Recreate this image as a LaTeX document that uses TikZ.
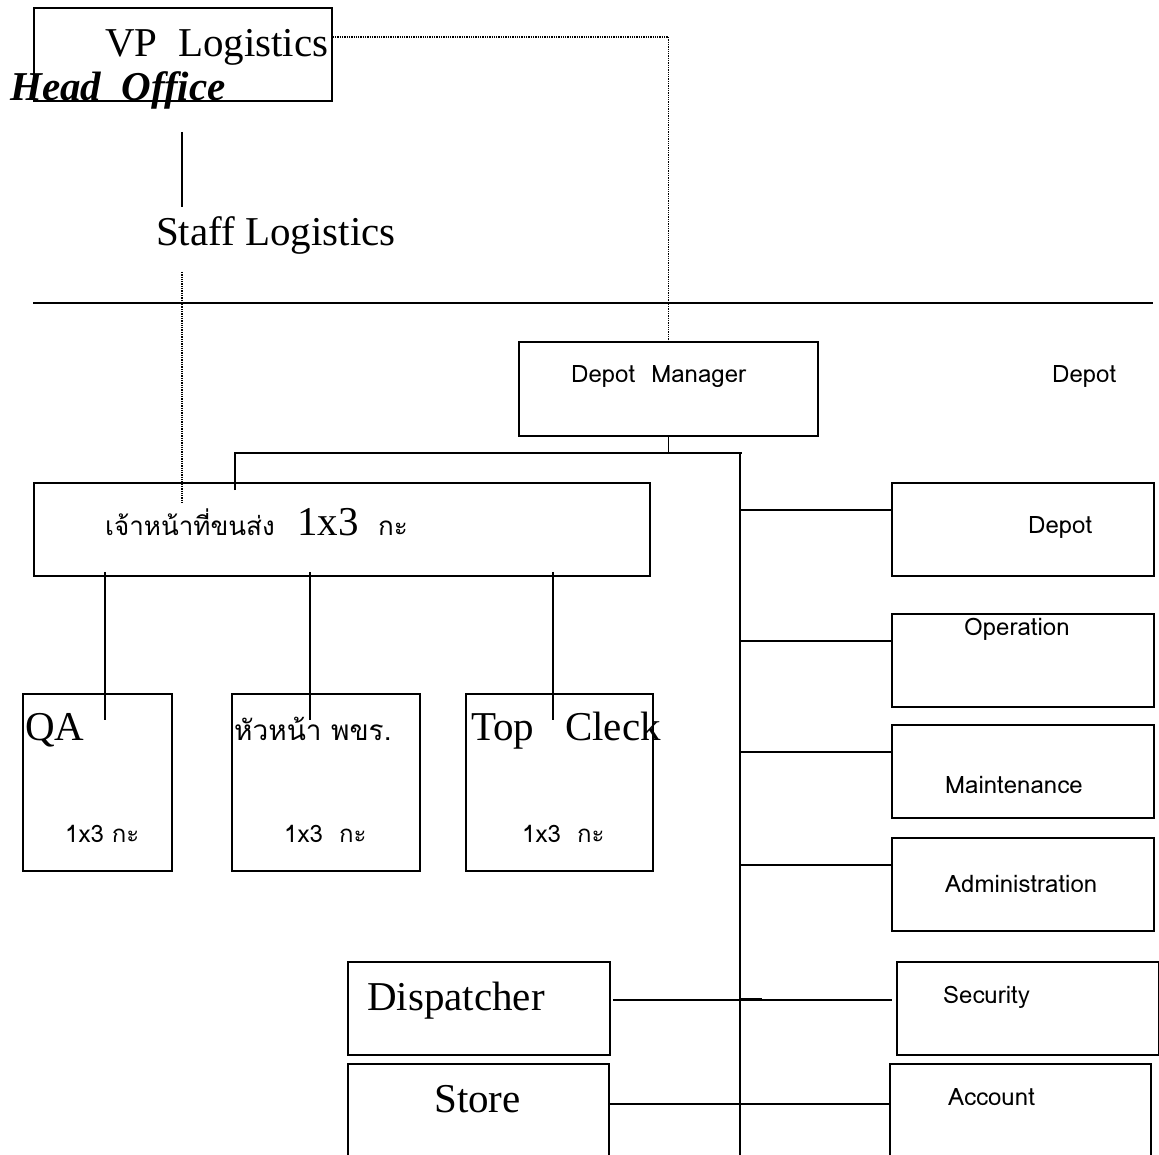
\documentclass[tikz,border=0pt]{standalone}
\usepackage{fontspec}
\setmainfont{Liberation Serif}
\newfontfamily\thai[Script=Thai]{Loma}
\usetikzlibrary{positioning}

\begin{document}
\begin{tikzpicture}[x=1pt,y=-1pt,
    box/.style={draw, line width=1.8pt, inner sep=0pt, anchor=north west},
    txt/.style={inner sep=0pt, anchor=base west},
    big/.style={txt, font=\fontsize{41}{45}\selectfont},
    sans/.style={txt, font=\thai\fontsize{24}{28}\selectfont},
    link/.style={line width=1.8pt},
    dots/.style={line width=1.3pt, densely dotted}]

   \useasboundingbox (0,0) rectangle (1159,1155);
   \clip (0,0) rectangle (1159,1155);

   % Head office
   \node[box, minimum width=298, minimum height=93] (vp) at (33,7) {};
   \node[big] (vp-t) at (105,57) {VP\ \ Logistics};
   \node[big, font=\bfseries\itshape\fontsize{41}{45}\selectfont] (ho) at (10,101) {Head\ \ Office};
   \node[big] (sl) at (156,246) {Staff Logistics};
   \coordinate (sl-top) at (182,132);
   \coordinate (sl-bot) at (182,207);
   \draw[link] (sl-top) -- (sl-bot);

   % Separator
   \draw[link] (33,303) -- (1153,303);

   % Depot manager
   \node[box, minimum width=299, minimum height=94] (dm) at (518,341) {};
   \node[sans] (dm-t) at (571,383) {Depot\ \ Manager};
   \node[sans] (dep) at (1052,383) {Depot};
   \draw[dots] ([yshift=17.5pt]vp.east) -| (dm.north);

   % Bus
   \coordinate (bus) at (740,453);
   \draw[link] (dm.south) -- (dm.south |- bus);
   \draw[link] (235,490) -- (235,453) -- (742,453);
   \draw[link] (bus) -- ++(0,720);

   % Transport staff
   \node[box, minimum width=616, minimum height=93] (tr) at (33,482) {};
   \node[txt, font=\thai\fontsize{26}{30}\selectfont] (tr-t) at (105,535) {เจ้าหน้าที่ขนส่ง};
   \node[big] (tr-n) at (297,535) {1x3};
   \node[txt, font=\thai\fontsize{26}{30}\selectfont] (tr-s) at (378,535) {กะ};
   \draw[dots] (sl-bot |- 0,272) -- (sl-bot |- 0,503);

   % Sections under transport staff
   \node[box, minimum width=149, minimum height=177] (qa) at (22,693) {};
   \node[box, minimum width=188, minimum height=177] (hd) at (231,693) {};
   \node[box, minimum width=187, minimum height=177] (tc) at (465,693) {};
   \node[big] (qa-t) at (25,740) {QA};
   \node[txt, font=\thai\fontsize{28}{32}\selectfont] (hd-t) at (234,740) {หัวหน้า พขร.};
   \node[big] (tc-t) at (471,740) {Top\ \ \ Cleck};
   \node[sans] (qa-n) at (65,842) {1x3 กะ};
   \node[sans] (hd-n) at (284,842) {1x3\ \ กะ};
   \node[sans] (tc-n) at (522,842) {1x3\ \ กะ};
   \foreach \n/\dx in {qa/83, hd/79, tc/88}
     \draw[link] ([xshift=\dx pt, yshift=5pt]\n.north west |- tr.south) -- ([xshift=\dx pt, yshift=-27pt]\n.north west);

   % Depot sections
   \foreach \n/\bx/\by/\tx/\ty/\t in {dp/891/482/1028/533/Depot, op/891/613/964/635/Operation,
       mt/891/724/945/793/Maintenance, ad/891/837/945/892/Administration}{
     \node[box, minimum width=262, minimum height=93] (\n) at (\bx,\by) {};
     \node[sans] (\n-t) at (\tx,\ty) {\t};
     \draw[link] ([yshift=-28pt]\n.north west) -- ([yshift=-28pt]\n.north west -| bus);
   }

   \node[box, minimum width=262, minimum height=93] (sc) at (896,961) {};
   \node[sans] (sc-t) at (943,1003) {Security};
   \node[box, minimum width=261, minimum height=130] (ac) at (889,1063) {};
   \node[sans] (ac-t) at (948,1105) {Account};

   % Dispatcher and store
   \node[box, minimum width=262, minimum height=93] (ds) at (347,961) {};
   \node[big] (ds-t) at (367,1010) {Dispatcher};
   \node[box, minimum width=261, minimum height=130] (st) at (347,1063) {};
   \node[big] (st-t) at (434,1112) {Store};
   \draw[link] ([xshift=2pt, yshift=8.5pt]ds.east) -- ([xshift=-4pt, yshift=8.5pt]sc.west);
   \draw[line width=3pt] ([yshift=8.5pt]ds.east -| bus) -- ++(22,0);
   \draw[link] ([yshift=-41pt]st.north east) -- ([yshift=-41pt]ac.north west);

\end{tikzpicture}
\end{document}
